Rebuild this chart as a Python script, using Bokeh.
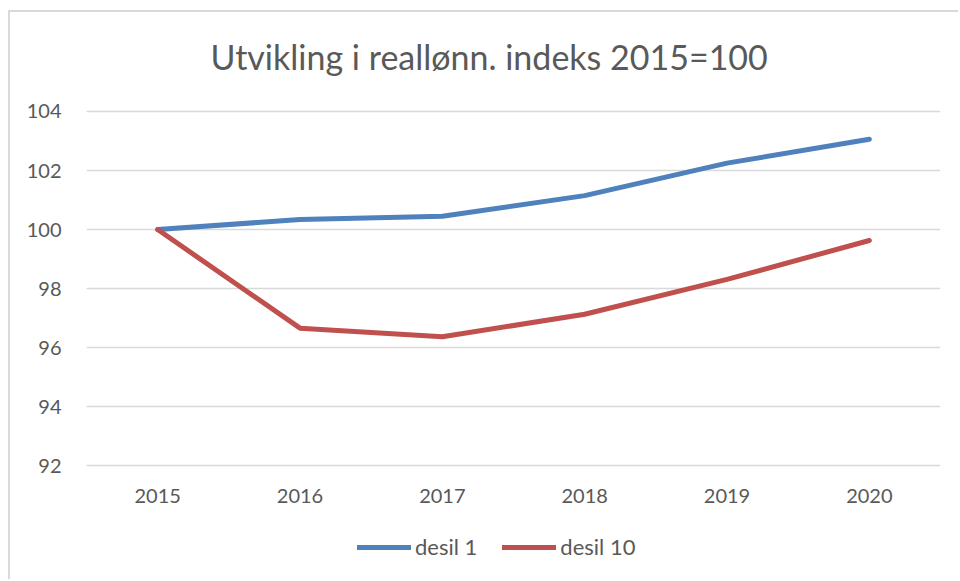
from bokeh.plotting import figure
from bokeh.models import FixedTicker, Legend, LegendItem, ColumnDataSource
from bokeh.embed import file_html
from bokeh.resources import INLINE

years = ["2015", "2016", "2017", "2018", "2019", "2020"]
desil_1 = [100.0, 100.34, 100.45, 101.15, 102.25, 103.06]
desil_10 = [100.0, 96.66, 96.37, 97.13, 98.31, 99.63]
y_ticks = [92, 94, 96, 98, 100, 102, 104]
title_text = "Utvikling i reallønn. indeks 2015=100"
series_names = ["desil 1", "desil 10"]

FONT = "Lato"
GREY = "#595959"

# layout (pixels): frame spans y=96..570 so the legend can sit inside it
TITLE_STANDOFF = 42
FRAME_TOP, FRAME_BOTTOM = 96, 570
Y_TOP_PX, Y_BOTTOM_PX = 110, 465          # where 104 and 92 are drawn
ppu = (Y_BOTTOM_PX - Y_TOP_PX) / (y_ticks[-1] - y_ticks[0])
y_start = y_ticks[0] - (FRAME_BOTTOM - Y_BOTTOM_PX) / ppu
y_end = y_ticks[-1] + (Y_TOP_PX - FRAME_TOP) / ppu

p = figure(
    x_range=years, y_range=(y_start, y_end),
    width=950, height=569,
    output_backend="svg", toolbar_location=None,
    min_border_left=76, min_border_right=20, min_border_top=0, min_border_bottom=11,
    title=title_text,
)
p.styles = {"border-left": "2px solid #d9d9d9", "border-top": "2px solid #d9d9d9",
            "margin-left": "8px", "margin-top": "10px"}

p.title.align = "left"
p.title.offset = 124
p.title.standoff = TITLE_STANDOFF
p.title.text_font = FONT
p.title.text_font_size = "34px"
p.title.text_font_style = "normal"
p.title.text_color = GREY

p.outline_line_color = None
p.background_fill_color = "white"
p.border_fill_color = "white"

p.xgrid.grid_line_color = None
p.ygrid.grid_line_color = "#d9d9d9"
p.ygrid.grid_line_width = 1.3

p.yaxis.ticker = FixedTicker(ticks=y_ticks)
for ax in (p.xaxis[0], p.yaxis[0]):
    ax.axis_line_color = None
    ax.major_tick_line_color = None
    ax.minor_tick_line_color = None
    ax.major_tick_out = 0
    ax.major_tick_in = 0
    ax.major_label_text_font = FONT
    ax.major_label_text_font_size = "20px"
    ax.major_label_text_color = GREY
p.yaxis.major_label_standoff = 25
p.xaxis.major_label_standoff = -82

src = ColumnDataSource(data=dict(year=years, d1=desil_1, d10=desil_10))
r1 = p.line("year", "d1", source=src, line_color="#4F81BD", line_width=5,
            line_join="round", line_cap="round")
r2 = p.line("year", "d10", source=src, line_color="#C0504D", line_width=5,
            line_join="round", line_cap="round")

legend = Legend(
    items=[LegendItem(label=series_names[0], renderers=[r1]),
           LegendItem(label=series_names[1], renderers=[r2])],
    orientation="horizontal",
    location=(271, 10),
    glyph_width=54, glyph_height=22, label_height=22,
    label_standoff=4, spacing=25, padding=0, margin=0,
    border_line_color=None, background_fill_alpha=0,
    label_text_font=FONT, label_text_font_size="22px", label_text_color=GREY,
)
p.add_layout(legend, "center")

open("out.html", "w").write(file_html(p, INLINE))
